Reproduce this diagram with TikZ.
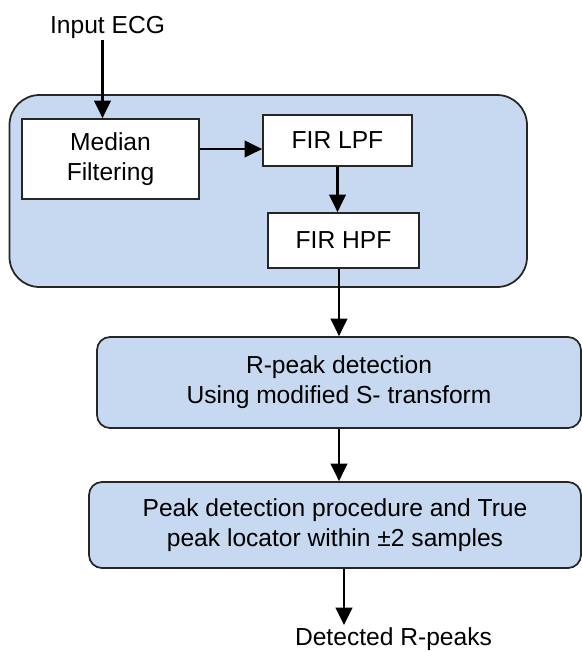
\documentclass[tikz,border=0pt]{standalone}
\usepackage{fontspec}
\setmainfont{Liberation Sans}
\usetikzlibrary{arrows.meta}
\definecolor{boxblue}{RGB}{198,217,240}

\begin{document}
\begin{tikzpicture}[>={Triangle[length=10pt,width=9.5pt]},
  textstyle/.style={black, align=center, font=\fontsize{14}{17}\selectfont},
  blockstyle/.style={textstyle, draw=black!85, line width=1pt, fill=white, inner sep=0pt},
  stagestyle/.style={draw=black!85, line width=1pt, fill=boxblue, rounded corners=0.6cm, inner sep=0pt},
  stepboxstyle/.style={textstyle, draw=black!85, line width=1pt, fill=boxblue, rounded corners=0.26cm, inner sep=0pt}]
  \useasboundingbox (0,0) rectangle (11.64,-13.04);

  % pre-processing stage
  \node [stagestyle, minimum width=10.35cm, minimum height=3.84cm] (Stage) at (5.365,-3.82) {};
  \node [textstyle, anchor=base, inner sep=1pt] (InputECG) at (2.15,-0.66) {Input ECG};
  \node [blockstyle, minimum width=3.54cm, minimum height=1.6cm] (Median) at (2.21,-3.18) {Median\\Filtering};
  \node [blockstyle, minimum width=2.98cm, minimum height=1.02cm] (LPF) at (6.75,-2.81) {FIR LPF};
  \node [blockstyle, minimum width=3.02cm, minimum height=1.1cm] (HPF) at (6.87,-4.81) {FIR HPF};
  \draw [->, line width=1.4pt] ([xshift=-0.1cm]InputECG.south) -- ([xshift=-0.1cm]InputECG.south |- Median.north);
  \draw [->, line width=1.4pt] ([yshift=0.2cm]Median.east) -- ([yshift=0.2cm]Median.east -| LPF.west);
  \draw [->, line width=1.4pt] (LPF.south) -- (LPF.south |- HPF.north);

  % detection
  \node [stepboxstyle, minimum width=9.68cm, minimum height=1.82cm] (RPeak) at (6.78,-7.65) {R-peak detection\\Using modified S- transform};
  \node [stepboxstyle, minimum width=9.84cm, minimum height=1.72cm] (PeakLoc) at (6.7,-10.5) {Peak detection procedure and True\\peak locator within ±2 samples};
  \node [textstyle, anchor=base, inner sep=1pt] (Output) at (7.87,-12.9) {Detected R-peaks};
  \draw [->, line width=1.4pt] (RPeak.north |- HPF.south) -- (RPeak.north);
  \draw [->, line width=1.4pt] (RPeak.south) -- (RPeak.south |- PeakLoc.north);
  \draw [->, line width=1.4pt] ([xshift=0.18cm]PeakLoc.south) -- ([xshift=0.18cm]PeakLoc.south |- Output.north);
\end{tikzpicture}
\end{document}
